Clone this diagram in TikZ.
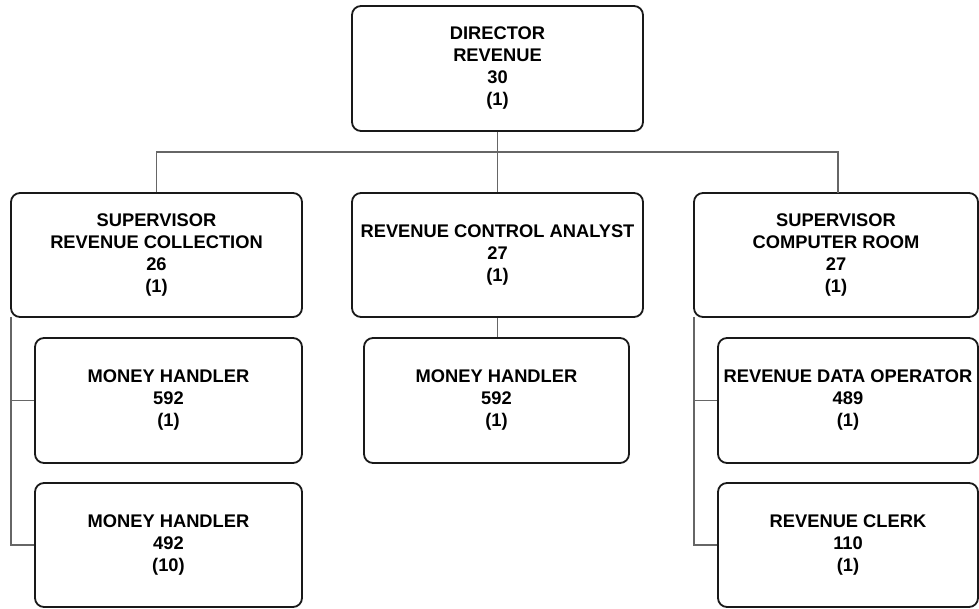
\documentclass[tikz,border=0pt]{standalone}
\usepackage{fontspec}
\setmainfont{Liberation Sans}
\begin{document}
\begin{tikzpicture}[x=1pt,y=-1pt,
  box/.style={draw=black!90, line width=1.8pt, rounded corners=9pt, fill=white,
    align=center, inner sep=0pt, font=\bfseries\fontsize{18.3}{22}\selectfont},
  link/.style={draw=black!60, line width=1.4pt}]
\useasboundingbox (0,0) rectangle (979,609);
\node[box, minimum width=291pt, minimum height=125pt] (dir) at (497.5,68.5) {DIRECTOR\\REVENUE\\30\\(1)};
\node[box, minimum width=291pt, minimum height=124pt] (sup1) at (156.5,255) {SUPERVISOR\\REVENUE COLLECTION\\26\\(1)};
\node[box, minimum width=291pt, minimum height=124pt] (rca) at (497.5,255) {REVENUE CONTROL ANALYST\\27\\(1)};
\node[box, minimum width=284pt, minimum height=124pt] (sup2) at (836,255) {SUPERVISOR\\COMPUTER ROOM\\27\\(1)};
\node[box, minimum width=267pt, minimum height=125pt] (mh1) at (168.5,400.5) {MONEY HANDLER\\592\\(1)};
\node[box, minimum width=267pt, minimum height=124pt] (mh2) at (168.5,545) {MONEY HANDLER\\492\\(10)};
\node[box, minimum width=265pt, minimum height=125pt] (mhc) at (496.5,400.5) {MONEY HANDLER\\592\\(1)};
\node[box, minimum width=260pt, minimum height=125pt] (rdo) at (848,400.5) {REVENUE DATA OPERATOR\\489\\(1)};
\node[box, minimum width=260pt, minimum height=124pt] (rc) at (848,545) {REVENUE CLERK\\110\\(1)};
\coordinate (bus) at (497.5,152);
\coordinate (s2top) at (838,193);
\coordinate (s1spine) at (11,317);
\coordinate (s2spine) at (694,317);
\draw[link] (dir.south) -- (rca.north);
\draw[link] (sup1.north) |- (bus) -| (s2top);
\draw[link] (rca.south) -- (rca.south |- mhc.north);
\draw[link] (s1spine) |- (mh2.west);
\draw[link] (s1spine |- mh1.west) -- (mh1.west);
\draw[link] (s2spine) |- (rc.west);
\draw[link] (s2spine |- rdo.west) -- (rdo.west);
\end{tikzpicture}
\end{document}
